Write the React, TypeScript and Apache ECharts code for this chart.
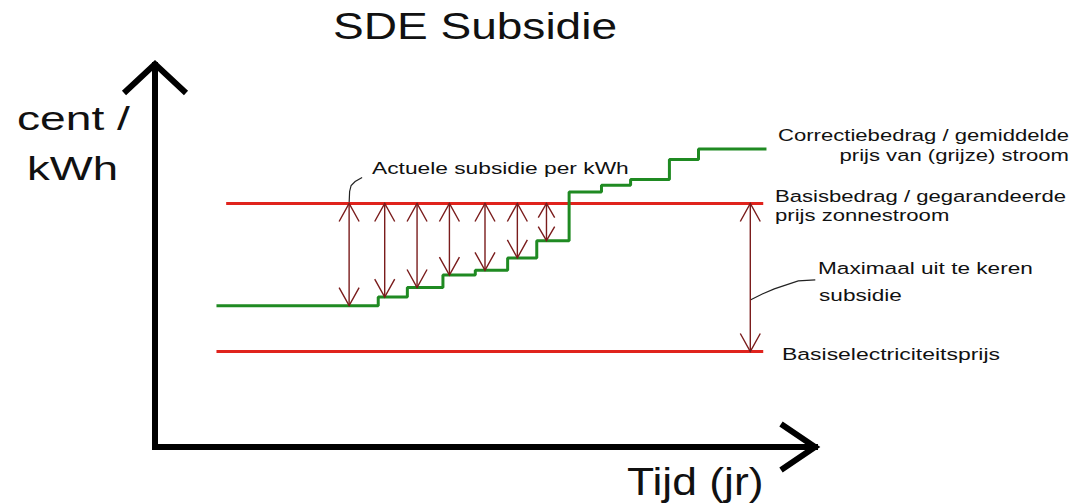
import React, { useEffect, useRef } from "react";
import * as echarts from "echarts";

// ---- data (years on x, cent/kWh on y) ----
const stepYears = [1.9, 6.9, 7.8, 8.9, 9.9, 10.9, 11.8, 12.8, 13.8, 14.7, 15.9, 16.8, 18.9];
const correctiebedrag = [14.8, 15.7, 16.7, 18.0, 18.5, 19.8, 21.6, 26.7, 27.4, 28.0, 30.1, 31.2, 31.2];
const basisbedragYears = [2.2, 18.8];
const basisbedrag = [25.5, 25.5];
const basisprijsYears = [1.9, 18.8];
const basisprijs = [10, 10];
const subsidieArrowYears = [6.0, 7.1, 8.1, 9.1, 10.2, 11.2, 12.1];
const maxSubsidieYears = [18.4];

const titleText = "SDE Subsidie";
const yAxisLines = ["cent /", "kWh"];
const xAxisText = "Tijd (jr)";
const labelCorrectie = ["Correctiebedrag / gemiddelde", "prijs van (grijze) stroom"];
const labelBasis = ["Basisbedrag / gegarandeerde", "prijs zonnestroom"];
const labelMax = ["Maximaal uit te keren", "subsidie"];
const labelPrijs = "Basiselectriciteitsprijs";
const labelActueel = "Actuele subsidie per kWh";

const RED = "#e0231d";
const GREEN = "#1f8a22";
const ARROW = "#7a1c1c";
const FONT = "'Liberation Sans', Arial, sans-serif";

function correctieAt(year: number): number {
  let v = correctiebedrag[0];
  for (let i = 0; i < stepYears.length; i++) {
    if (stepYears[i] <= year) v = correctiebedrag[i];
  }
  return v;
}

const arrowRender = (params: any, api: any) => {
  const x = api.value(0);
  const top = api.value(1);
  const bot = api.value(2);
  const p1 = api.coord([x, top]);
  const p2 = api.coord([x, bot]);
  const len = p2[1] - p1[1];
  const h = Math.min(18, len * 0.38);
  const w = Math.min(10, h * 0.58);
  const style = { stroke: ARROW, lineWidth: 1.4, fill: "none" };
  return {
    type: "group",
    children: [
      { type: "line", shape: { x1: p1[0], y1: p1[1], x2: p2[0], y2: p2[1] }, style },
      {
        type: "polyline",
        shape: { points: [[p1[0] - w, p1[1] + h], [p1[0], p1[1]], [p1[0] + w, p1[1] + h]] },
        style,
      },
      {
        type: "polyline",
        shape: { points: [[p2[0] - w, p2[1] - h], [p2[0], p2[1]], [p2[0] + w, p2[1] - h]] },
        style,
      },
    ],
  };
};

function txt(text: string, x: number, y: number, size: number, sx: number, align = "left") {
  return {
    type: "text",
    x,
    y,
    scaleX: sx,
    silent: true,
    style: {
      text,
      fontSize: size,
      fontFamily: FONT,
      fill: "#111",
      align,
      verticalAlign: "middle",
    },
  };
}

export default function App() {
  const ref = useRef<HTMLDivElement>(null);
  useEffect(() => {
    if (!ref.current) return;
    const chart = echarts.init(ref.current, null, { renderer: "svg" });
    const greenData = stepYears.map((y, i) => [y, correctiebedrag[i]]);
    const smallArrows = subsidieArrowYears.map((y) => [y, basisbedrag[0], correctieAt(y)]);
    const bigArrow = maxSubsidieYears.map((y) => [y, basisbedrag[0], basisprijs[0]]);
    const axisLineStyle = { color: "#000", width: 6, cap: "square" };
    chart.setOption({
      animation: false,
      backgroundColor: "#fff",
      grid: { left: 155, top: 65, width: 660, height: 382, containLabel: false },
      xAxis: {
        type: "value",
        min: 0,
        max: 20.4,
        axisLine: { show: true, onZero: false, lineStyle: axisLineStyle },
        axisTick: { show: false },
        axisLabel: { show: false },
        splitLine: { show: false },
      },
      yAxis: {
        type: "value",
        min: 0,
        max: 40,
        axisLine: { show: true, onZero: false, lineStyle: axisLineStyle },
        axisTick: { show: false },
        axisLabel: { show: false },
        splitLine: { show: false },
      },
      series: [
        {
          name: "Basiselectriciteitsprijs",
          type: "line",
          data: basisprijsYears.map((y, i) => [y, basisprijs[i]]),
          showSymbol: false,
          lineStyle: { color: RED, width: 3 },
        },
        {
          name: "Basisbedrag",
          type: "line",
          data: basisbedragYears.map((y, i) => [y, basisbedrag[i]]),
          showSymbol: false,
          lineStyle: { color: RED, width: 3 },
        },
        {
          name: "Correctiebedrag",
          type: "line",
          step: "end",
          data: greenData,
          showSymbol: false,
          lineStyle: { color: GREEN, width: 3 },
        },
        {
          name: "Actuele subsidie",
          type: "custom",
          renderItem: arrowRender,
          data: smallArrows,
          z: 5,
        },
        {
          name: "Maximale subsidie",
          type: "custom",
          renderItem: arrowRender,
          data: bigArrow,
          z: 5,
        },
      ],
    });

    const px = (v: number[]) => chart.convertToPixel({ gridIndex: 0 }, v) as number[];
    const origin = px([0, 0]);
    const yTip = px([0, 40]);
    const xTip = px([20.4, 0]);
    const actAnchor = px([subsidieArrowYears[0], basisbedrag[0]]);
    const bigMid = px([maxSubsidieYears[0], 15.4]);
    const axisStroke = { stroke: "#000", lineWidth: 6, fill: "none", lineJoin: "miter", lineCap: "butt" };

    chart.setOption({
      graphic: [
        txt(titleText, 475, 27, 36, 1.28, "center"),
        txt(yAxisLines[0], 17, 119, 33, 1.4),
        txt(yAxisLines[1], 27, 168, 33, 1.38),
        txt(xAxisText, 627, 482, 38, 1.17),
        {
          type: "polyline",
          silent: true,
          shape: { points: [[yTip[0] - 31, yTip[1] + 28], [yTip[0], yTip[1] - 1], [yTip[0] + 31, yTip[1] + 28]] },
          style: axisStroke,
        },
        {
          type: "polyline",
          silent: true,
          shape: { points: [[xTip[0] - 34, origin[1] - 23], [xTip[0], origin[1]], [xTip[0] - 34, origin[1] + 23]] },
          style: axisStroke,
        },
        {
          type: "polyline",
          silent: true,
          shape: {
            points: [
              [actAnchor[0], actAnchor[1]],
              [actAnchor[0] + 0.5, actAnchor[1] - 12],
              [actAnchor[0] + 2, actAnchor[1] - 18],
              [actAnchor[0] + 6, actAnchor[1] - 22],
              [actAnchor[0] + 13, actAnchor[1] - 26],
            ],
          },
          style: { stroke: "#222", lineWidth: 1.2, fill: "none" },
        },
        {
          type: "polyline",
          silent: true,
          shape: {
            points: [
              [bigMid[0], bigMid[1]],
              [bigMid[0] + 12, bigMid[1] - 6],
              [bigMid[0] + 24, bigMid[1] - 11],
              [bigMid[0] + 36, bigMid[1] - 15],
              [bigMid[0] + 48, bigMid[1] - 19],
              [bigMid[0] + 65, bigMid[1] - 20],
            ],
          },
          style: { stroke: "#222", lineWidth: 1.2, fill: "none" },
        },
        txt(labelActueel, 372, 168, 17, 1.34),
        txt(labelCorrectie[0], 1069, 135, 17, 1.3, "right"),
        txt(labelCorrectie[1], 1069, 155, 17, 1.3, "right"),
        txt(labelBasis[0], 775, 196, 17, 1.3),
        txt(labelBasis[1], 775, 215, 17, 1.3),
        txt(labelMax[0], 818, 268, 17, 1.33),
        txt(labelMax[1], 819, 295, 17, 1.33),
        txt(labelPrijs, 782, 354, 17, 1.35),
      ],
    });

    return () => chart.dispose();
  }, []);
  return (
    <div
      ref={ref}
      style={{ position: "fixed", left: 0, top: 0, width: 1076, height: 503, background: "#fff" }}
    />
  );
}
